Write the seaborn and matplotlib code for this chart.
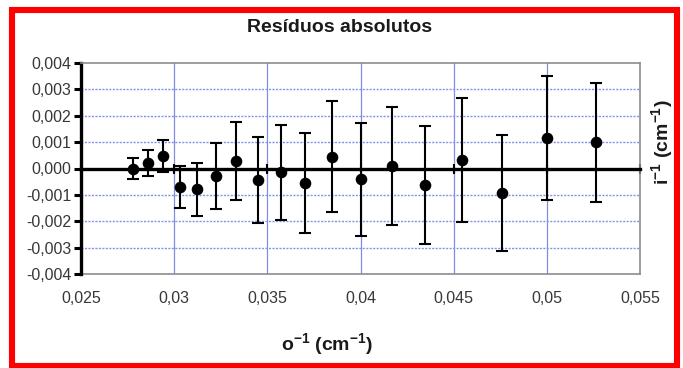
import matplotlib
matplotlib.use("Agg")
import matplotlib.pyplot as plt
import matplotlib.patches as patches
from matplotlib.ticker import FixedLocator, FixedFormatter
import seaborn as sns
import pandas as pd

# inverse order o^-1 (cm^-1)
inv_o = [0.02778, 0.02857, 0.02941, 0.03030, 0.03125, 0.03226, 0.03333, 0.03448,
         0.03571, 0.03704, 0.03846, 0.04000, 0.04167, 0.04348, 0.04545, 0.04762,
         0.05000, 0.05263]
# absolute residuals of i^-1 (cm^-1)
residuo = [0.00000, 0.00020, 0.00047, -0.00069, -0.00079, -0.00028, 0.00028, -0.00044,
           -0.00015, -0.00054, 0.00045, -0.00041, 0.00010, -0.00063, 0.00032, -0.00094,
           0.00117, 0.00099]
# uncertainty of each residual
incerteza = [0.00040, 0.00050, 0.00060, 0.00080, 0.00100, 0.00124, 0.00147, 0.00163,
             0.00180, 0.00190, 0.00210, 0.00214, 0.00224, 0.00224, 0.00234, 0.00220,
             0.00235, 0.00225]

x_ticks = [0.025, 0.030, 0.035, 0.040, 0.045, 0.050, 0.055]
x_tick_labels = ["0,025", "0,03", "0,035", "0,04", "0,045", "0,05", "0,055"]
y_ticks = [-0.004, -0.003, -0.002, -0.001, 0.0, 0.001, 0.002, 0.003, 0.004]
y_tick_labels = ["-0,004", "-0,003", "-0,002", "-0,001", "0,000", "0,001", "0,002",
                 "0,003", "0,004"]

df = pd.DataFrame({"x": inv_o, "y": residuo, "err": incerteza})

sns.set_theme(style="white")
plt.rcParams["font.family"] = ["Liberation Sans", "DejaVu Sans"]
plt.rcParams["mathtext.fontset"] = "custom"
plt.rcParams["mathtext.rm"] = "Liberation Sans"
plt.rcParams["mathtext.bf"] = "Liberation Sans:bold"

W, H = 683, 368
fig = plt.figure(figsize=(W / 100, H / 100), dpi=100)
fig.patch.set_facecolor("white")
ax = fig.add_axes([81 / W, 1 - 274 / H, (640 - 81) / W, (274 - 63) / H])

ax.set_xlim(x_ticks[0], x_ticks[-1])
ax.set_ylim(y_ticks[0], y_ticks[-1])
ax.xaxis.set_major_locator(FixedLocator(x_ticks))
ax.yaxis.set_major_locator(FixedLocator(y_ticks))
ax.yaxis.set_major_formatter(FixedFormatter(y_tick_labels))

# grid: solid verticals, dotted horizontals
ax.grid(False)
for gx in x_ticks[1:-1]:
    ax.axvline(gx, color="#7f8ee0", lw=0.9, zorder=0.5)
for gy in y_ticks[1:-1]:
    if gy != 0:
        ax.axhline(gy, color="#8593e6", lw=1.0, ls=(0, (1.5, 1.0)), zorder=0.5)

# error bars and points
ax.errorbar(df["x"], df["y"], yerr=df["err"], fmt="none", ecolor="black",
            elinewidth=1.5, capsize=4, capthick=1.5, zorder=3)
sns.scatterplot(data=df, x="x", y="y", ax=ax, color="black", s=70,
                edgecolor="black", linewidth=0, zorder=4, legend=False)

# spines
for side in ("top", "right"):
    ax.spines[side].set_color("#8c8c8c")
    ax.spines[side].set_linewidth(1.2)
ax.spines["left"].set_color("black")
ax.spines["left"].set_linewidth(2.4)
ax.spines["bottom"].set_position(("data", 0))
ax.spines["bottom"].set_color("black")
ax.spines["bottom"].set_linewidth(2.4)
ax.spines["bottom"].set_zorder(2.5)

ax.tick_params(axis="x", which="major", direction="inout", length=7, width=1.5,
               color="black", labelbottom=False, bottom=True)
ax.tick_params(axis="y", which="major", direction="out", length=5, width=2.2,
               color="black", labelsize=11.5, labelcolor="#383838", pad=2, left=True)

# tick labels along the lower edge of the plot area
sec = ax.secondary_xaxis("bottom")
sec.xaxis.set_major_locator(FixedLocator(x_ticks))
sec.xaxis.set_major_formatter(FixedFormatter(x_tick_labels))
sec.spines["bottom"].set_color("#8c8c8c")
sec.spines["bottom"].set_linewidth(1.2)
sec.tick_params(axis="x", length=0, pad=12, labelsize=11.5, labelcolor="#383838")

ax.set_xlabel("")
ax.set_ylabel("")

fig.text(340 / W, 1 - 28 / H, "Resíduos absolutos", ha="center", va="center",
         fontsize=14, fontweight="bold", color="#1a1a1a")
fig.text(327 / W, 1 - 345 / H, r"o$^{\mathbf{-1}}$ (cm$^{\mathbf{-1}}$)", ha="center",
         va="center", fontsize=14, fontweight="bold", color="#1a1a1a")
fig.text(663 / W, 1 - 142 / H, r"i$^{\mathbf{-1}}$ (cm$^{\mathbf{-1}}$)", ha="center",
         va="center", rotation=90, fontsize=14, fontweight="bold", color="#1a1a1a")

# red frame around the figure
fig.patches.append(patches.Rectangle((12 / W, 1 - 365.5 / H), (677 - 12) / W,
                                     (365.5 - 10) / H, transform=fig.transFigure,
                                     fill=False, edgecolor="#ff0000", linewidth=4.4))

fig.savefig("out.png", dpi=100)
